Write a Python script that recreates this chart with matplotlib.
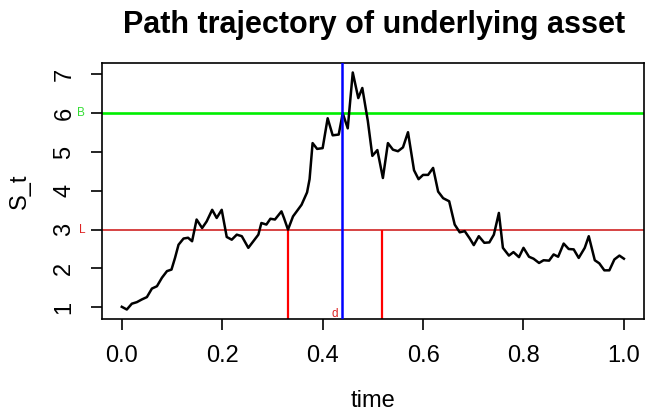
import matplotlib
matplotlib.use("Agg")
import matplotlib.pyplot as plt
import matplotlib.transforms as mtransforms

plt.rcParams['font.family'] = ['Liberation Sans', 'DejaVu Sans']

# path
time = [0.000, 0.010, 0.020, 0.030, 0.040, 0.050, 0.060, 0.070, 0.080, 0.090,
        0.099, 0.106, 0.113, 0.123, 0.132, 0.140, 0.149, 0.160, 0.169, 0.180,
        0.189, 0.199, 0.209, 0.219, 0.229, 0.239, 0.252, 0.262, 0.272, 0.278,
        0.288, 0.296, 0.305, 0.310, 0.318, 0.323, 0.331, 0.341, 0.358, 0.369,
        0.374, 0.380, 0.389, 0.400, 0.410, 0.420, 0.432, 0.440, 0.450, 0.460,
        0.471, 0.479, 0.490, 0.499, 0.509, 0.520, 0.530, 0.540, 0.550, 0.560,
        0.570, 0.582, 0.591, 0.600, 0.610, 0.620, 0.630, 0.640, 0.652, 0.663,
        0.673, 0.683, 0.693, 0.701, 0.711, 0.722, 0.732, 0.741, 0.751, 0.759,
        0.771, 0.780, 0.791, 0.800, 0.811, 0.820, 0.831, 0.840, 0.851, 0.860,
        0.869, 0.880, 0.890, 0.900, 0.910, 0.922, 0.930, 0.942, 0.951, 0.961,
        0.971, 0.981, 0.991, 1.000]
S_t = [1.01, 0.94, 1.09, 1.13, 1.20, 1.26, 1.48, 1.54, 1.76, 1.93,
       1.97, 2.27, 2.61, 2.77, 2.79, 2.70, 3.26, 3.04, 3.21, 3.51,
       3.30, 3.51, 2.81, 2.74, 2.87, 2.83, 2.53, 2.70, 2.87, 3.17,
       3.13, 3.28, 3.26, 3.34, 3.47, 3.30, 3.00, 3.34, 3.64, 3.96,
       4.30, 5.23, 5.08, 5.10, 5.87, 5.43, 5.45, 6.00, 5.61, 7.05,
       6.39, 6.65, 5.80, 4.90, 5.05, 4.33, 5.23, 5.06, 5.02, 5.12,
       5.51, 4.53, 4.30, 4.41, 4.41, 4.59, 3.98, 3.81, 3.73, 3.13,
       2.93, 2.96, 2.77, 2.60, 2.83, 2.66, 2.67, 2.87, 3.43, 2.53,
       2.33, 2.42, 2.29, 2.53, 2.30, 2.25, 2.14, 2.21, 2.20, 2.36,
       2.30, 2.64, 2.50, 2.49, 2.27, 2.53, 2.83, 2.21, 2.13, 1.95,
       1.95, 2.23, 2.33, 2.25]

B = 6.0
L = 3.0
d = 0.439
red_times = [0.331, 0.519]
x_ticks = [0.0, 0.2, 0.4, 0.6, 0.8, 1.0]
x_ticklabels = ["0.0", "0.2", "0.4", "0.6", "0.8", "1.0"]
y_ticks = [1, 2, 3, 4, 5, 6, 7]

fig = plt.figure(figsize=(6.45, 4.15), dpi=100)
ax = fig.add_axes([101.7/645, 1-319/415, (644-101.7)/645, (319-63)/415])

xlo, xhi = min(time), max(time)
xp = 0.04*(xhi-xlo)
ylo, yhi = min(S_t), max(S_t)
yp = 0.04*(yhi-ylo)
ax.set_xlim(xlo-xp, xhi+xp)
ax.set_ylim(ylo-yp, yhi+yp)

ax.plot(time, S_t, color='black', lw=1.8, zorder=3)
ax.axhline(B, color='#00ee00', lw=1.9, zorder=2)
ax.axhline(L, color='#cc1111', lw=1.1, zorder=2)
ax.axvline(d, color='#0000ff', lw=1.8, zorder=4)
ax.vlines(red_times, ylo-yp, L, color='#ff0000', lw=1.6, zorder=2)

trans = mtransforms.blended_transform_factory(ax.transAxes, ax.transData)
ax.text(-0.038, B, "B", color='#33dd33', fontsize=8.5, ha='center', va='center',
        transform=trans, clip_on=False)
ax.text(-0.036, L, "L", color='#dd2222', fontsize=8.5, ha='center', va='center',
        transform=trans, clip_on=False)
ax.text(d-0.014, ylo-yp+0.14, "d", color='#dd2222', fontsize=8.5, ha='center',
        va='center')

ax.set_xticks(x_ticks)
ax.set_xticklabels(x_ticklabels)
ax.set_yticks(y_ticks)
ax.tick_params(axis='both', direction='out', length=8, width=1.2,
               labelsize=17, color='black')
ax.tick_params(axis='x', pad=11)
ax.tick_params(axis='y', pad=11)
for lab in ax.get_yticklabels():
    lab.set_rotation(90)
    lab.set_va('center')
for sp in ax.spines.values():
    sp.set_linewidth(1.2)

ax.set_xlabel("time", fontsize=17, labelpad=16)
ax.set_ylabel("S_t", fontsize=17, labelpad=16)
fig.text(374/645, 1-25/415, "Path trajectory of underlying asset",
         fontsize=22, fontweight='bold', ha='center', va='center')

fig.savefig("out.png", dpi=100)
